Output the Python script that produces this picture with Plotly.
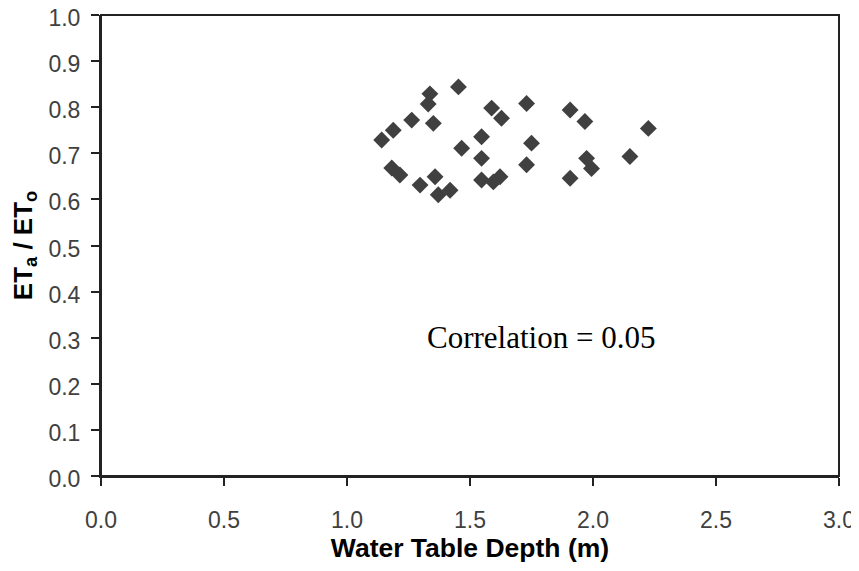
import plotly.graph_objects as go

water_table_depth = [1.141, 1.188, 1.263, 1.337, 1.330, 1.351, 1.453, 1.588, 1.628, 1.730,
                     1.907, 1.967, 2.225, 1.547, 1.750, 1.466, 1.547, 1.730, 2.150, 1.974,
                     1.994, 1.907, 1.182, 1.215, 1.297, 1.358, 1.371, 1.419, 1.547, 1.595,
                     1.622]
eta_eto = [0.729, 0.750, 0.772, 0.829, 0.807, 0.765, 0.844, 0.798, 0.776, 0.808,
           0.794, 0.769, 0.754, 0.736, 0.722, 0.711, 0.689, 0.675, 0.693, 0.689,
           0.667, 0.646, 0.668, 0.653, 0.631, 0.649, 0.610, 0.620, 0.642, 0.638,
           0.649]

fig = go.Figure()
fig.add_trace(go.Scatter(
    x=water_table_depth, y=eta_eto, mode="markers",
    marker=dict(symbol="diamond", size=13, color="#404040", line=dict(width=0)),
    showlegend=False,
))

axis_common = dict(
    showgrid=False, zeroline=False, showline=True, linecolor="#222222", linewidth=2,
    mirror=False, ticks="outside", ticklen=8, tickwidth=2, tickcolor="#222222",
    tickfont=dict(family="Liberation Sans, Arial, sans-serif", size=23, color="#404040"),
    tickformat=".1f", automargin=False, ticklabeloverflow="allow",
)

fig.update_xaxes(range=[0, 3], dtick=0.5, tick0=0, ticklabelstandoff=14, **axis_common,
                 title=dict(text="<b>Water Table Depth (m)</b>",
                            font=dict(family="Liberation Sans, Arial, sans-serif", size=26.5, color="#000000"),
                            standoff=10))
fig.update_yaxes(range=[0, 1], dtick=0.1, tick0=0, ticklabelstandoff=6, ticklabelshift=3,
                 **axis_common,
                 title=dict(text="<b>ET<sub>a</sub> / ET<sub>o</sub></b>",
                            font=dict(family="Liberation Sans, Arial, sans-serif", size=26, color="#000000"),
                            standoff=15))

fig.add_shape(type="rect", xref="paper", yref="paper", x0=0, x1=1, y0=0, y1=1,
              line=dict(color="#222222", width=2), fillcolor="rgba(0,0,0,0)", layer="above")

fig.add_annotation(x=1.79, y=0.30, xref="x", yref="y", text="Correlation = 0.05",
                   showarrow=False,
                   font=dict(family="Liberation Serif, Times New Roman, serif", size=31, color="#000000"))

fig.update_layout(
    width=851, height=555,
    margin=dict(l=93, r=20, t=7, b=87),
    plot_bgcolor="white", paper_bgcolor="white",
)

fig.write_html("out.html")
